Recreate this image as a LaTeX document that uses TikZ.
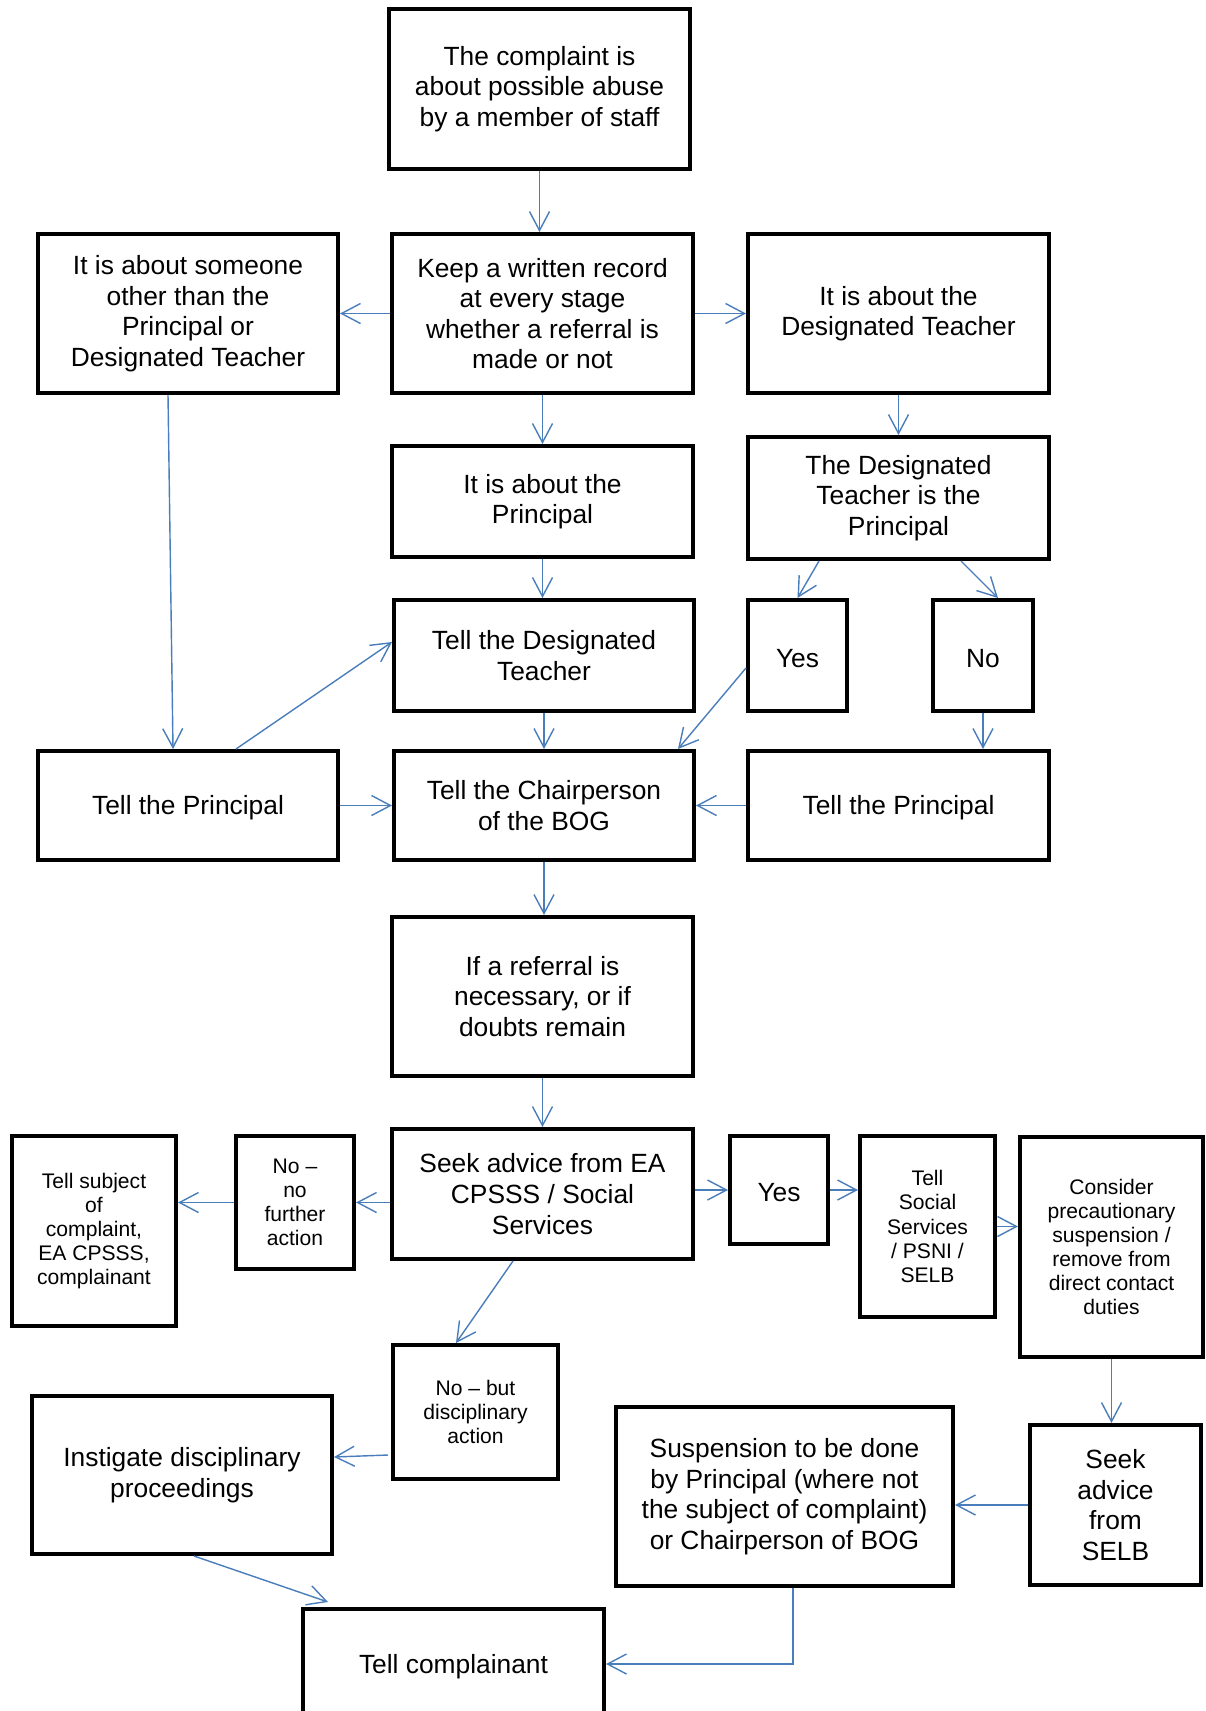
\documentclass[tikz,border=0pt]{standalone}
\usepackage{fontspec}
\setmainfont{Liberation Sans}
\usetikzlibrary{arrows.meta,calc}
\definecolor{linkblue}{RGB}{74,126,187}

\begin{document}
\begin{tikzpicture}[x=0.02cm,y=-0.02cm,
		box/.style={draw,line width=2.3pt,align=center,inner sep=0pt,font=\fontsize{15}{17.4}\selectfont,execute at begin node={\rule{0pt}{0.905em}}},
		small/.style={font=\fontsize{12}{13.7}\selectfont},
		link/.style={draw=linkblue,line width=0.8pt,-{Straight Barb[length=3.8mm,width=4mm]}}]
		\useasboundingbox (0,0) rectangle (1205,1711);

		\node[box,minimum width=6.02cm,minimum height=3.2cm]		(top)		at (539.5,89)		{The complaint is\\about possible abuse\\by a member of staff};
		\node[box,minimum width=6.0cm,minimum height=3.18cm]		(other)		at (188,313.5)		{It is about someone\\other than the\\Principal or\\Designated Teacher};
		\node[box,minimum width=6.02cm,minimum height=3.18cm]		(keep)		at (542.5,313.5)	{Keep a written record\\at every stage\\whether a referral is\\made or not};
		\node[box,minimum width=6.02cm,minimum height=3.18cm]		(dt)		at (898.5,313.5)	{It is about the\\Designated Teacher};
		\node[box,minimum width=6.02cm,minimum height=2.22cm]		(aboutp)	at (542.5,501.5)	{It is about the\\Principal};
		\node[box,minimum width=6.02cm,minimum height=2.44cm]		(dtisp)		at (898.5,498)		{The Designated\\Teacher is the\\Principal};
		\node[box,minimum width=6.0cm,minimum height=2.22cm]		(telldt)	at (544,655.5)		{Tell the Designated\\Teacher};
		\node[box,minimum width=1.98cm,minimum height=2.22cm]		(yesa)		at (797.5,655.5)	{Yes};
		\node[box,minimum width=2.0cm,minimum height=2.22cm]		(noa)		at (983,655.5)		{No};
		\node[box,minimum width=6.0cm,minimum height=2.18cm]		(tellpl)	at (188,805.5)		{Tell the Principal};
		\node[box,minimum width=6.0cm,minimum height=2.18cm]		(chair)		at (544,805.5)		{Tell the Chairperson\\of the BOG};
		\node[box,minimum width=6.02cm,minimum height=2.18cm]		(tellpr)	at (898.5,805.5)	{Tell the Principal};
		\node[box,minimum width=6.02cm,minimum height=3.18cm]		(referral)	at (542.5,996.5)	{If a referral is\\necessary, or if\\doubts remain};
		\node[box,minimum width=6.02cm,minimum height=2.6cm]		(seek)		at (542.5,1194)		{Seek advice from EA\\CPSSS / Social\\Services};
		\node[box,small,minimum width=2.36cm,minimum height=2.66cm]	(nofurther)	at (295,1202.5)		{No –\\no\\further\\action};
		\node[box,small,minimum width=3.28cm,minimum height=3.8cm]	(subject)	at (94,1231)		{Tell subject\\of\\complaint,\\EA CPSSS,\\complainant};
		\node[box,minimum width=1.96cm,minimum height=2.16cm]		(yesb)		at (779,1190)		{Yes};
		\node[box,small,minimum width=2.7cm,minimum height=3.62cm]	(social)	at (927.5,1226.5)	{Tell\\Social\\Services\\/ PSNI /\\SELB};
		\node[box,small,minimum width=3.66cm,minimum height=4.4cm]	(consider)	at (1111.5,1247)	{Consider\\precautionary\\suspension /\\remove from\\direct contact\\duties};
		\node[box,small,minimum width=3.3cm,minimum height=2.68cm]	(nobut)		at (475.5,1412)		{No – but\\disciplinary\\action};
		\node[box,minimum width=6.0cm,minimum height=3.16cm]		(instigate)	at (182,1475)		{Instigate disciplinary\\proceedings};
		\node[box,minimum width=6.74cm,minimum height=3.58cm]		(suspension)	at (784.5,1496.5)	{Suspension to be done\\by Principal (where not\\the subject of complaint)\\or Chairperson of BOG};
		\node[box,minimum width=3.42cm,minimum height=3.2cm]		(selb)		at (1115.5,1505)	{Seek\\advice\\from\\SELB};
		\node[box,minimum width=6.02cm,minimum height=2.2cm]		(complainant)	at (453.5,1664)		{Tell complainant};

		\draw[link] (top.south) -- (top.south |- keep.north);
		\draw[link] (keep.west) -- (other.east);
		\draw[link] (keep.east) -- (dt.west);
		\draw[link] (keep.south) -- (keep.south |- aboutp.north);
		\draw[link] (dt.south) -- (dtisp.north);
		\draw[link] (aboutp.south) -- (aboutp.south |- telldt.north);
		\draw[link] ($(dtisp.south west)+(73,0)$) -- (yesa.north);
		\draw[link] ($(dtisp.south west)+(215,0)$) -- ($(noa.north west)+(67,0)$);
		\draw[link] (noa.south) -- (noa.south |- tellpr.north);
		\draw[link] ($(yesa.south west)+(0,-45)$) -- ($(chair.north east)+(-18,0)$);
		\draw[link] (telldt.south) -- (chair.north);
		\draw[link] ($(other.south west)+(132,0)$) -- ($(tellpl.north west)+(137,0)$);
		\draw[link] ($(tellpl.north west)+(200,0)$) -- ($(telldt.north west)+(0,44)$);
		\draw[link] (tellpl.east) -- (chair.west);
		\draw[link] (tellpr.west) -- (chair.east);
		\draw[link] (chair.south) -- (chair.south |- referral.north);
		\draw[link] (referral.south) -- (seek.north);
		\draw[link] (nofurther.east -| seek.west) -- (nofurther.east);
		\draw[link] (nofurther.west) -- (nofurther.west -| subject.east);
		\draw[link] (yesb.west -| seek.east) -- (yesb.west);
		\draw[link] (yesb.east) -- (yesb.east -| social.west);
		\draw[link] (social.east) -- (social.east -| consider.west);
		\draw[link] (consider.south) -- (consider.south |- selb.north);
		\draw[link] (selb.west) -- (selb.west -| suspension.east);
		\draw[link] ($(suspension.south west)+(179,0)$) |- (complainant.east);
		\draw[link] ($(seek.south west)+(123,0)$) -- ($(nobut.north west)+(65,0)$);
		\draw[link] ($(nobut.west)+(-3,43)$) -- ($(instigate.east)+(0,-18)$);
		\draw[link] ($(instigate.south west)+(164,0)$) -- ($(complainant.north west)+(27,-5)$);
	\end{tikzpicture}
\end{document}
